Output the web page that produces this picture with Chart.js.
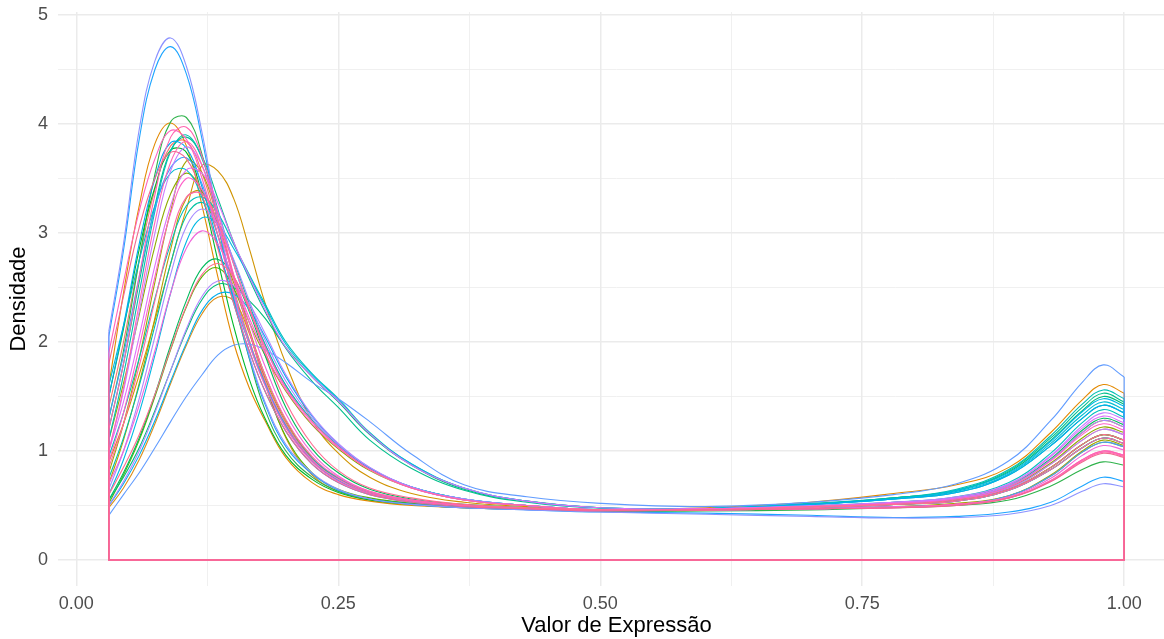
<!DOCTYPE html>
<html><head><meta charset="utf-8">
<script src="https://cdn.jsdelivr.net/npm/chart.js@4.4.1/dist/chart.umd.min.js"></script>
<style>html,body{margin:0;padding:0;overflow:hidden;background:#fff}</style>
</head><body>
<canvas id="c" width="1175" height="639"></canvas>
<script>
// Expression values (x) at which each density curve was read
const xValues = [0.031, 0.045, 0.06, 0.075, 0.09, 0.105, 0.12, 0.135, 0.15, 0.165, 0.18, 0.2, 0.225, 0.25, 0.28, 0.32, 0.37, 0.43, 0.5, 0.6, 0.7, 0.78, 0.84, 0.89, 0.93, 0.96, 0.98, 1.0];

// Density curves (one per sample)
const s01 = [1.40, 2.00, 2.75, 3.40, 3.80, 3.84, 3.55, 3.05, 2.50, 2.02, 1.62, 1.23, 0.91, 0.73, 0.61, 0.54, 0.50, 0.47, 0.455, 0.47, 0.49, 0.52, 0.56, 0.66, 0.88, 1.10, 1.20, 1.15];
const s02 = [1.60, 2.45, 3.25, 3.82, 4.01, 3.80, 3.25, 2.60, 2.00, 1.58, 1.28, 0.94, 0.71, 0.60, 0.54, 0.50, 0.48, 0.47, 0.46, 0.48, 0.53, 0.61, 0.69, 0.85, 1.17, 1.47, 1.61, 1.53];
const s03 = [0.90, 1.25, 1.70, 2.20, 2.72, 3.22, 3.62, 3.57, 3.32, 2.86, 2.36, 1.80, 1.28, 0.98, 0.76, 0.61, 0.53, 0.49, 0.46, 0.46, 0.49, 0.51, 0.55, 0.65, 0.85, 1.06, 1.15, 1.10];
const s04 = [0.48, 0.66, 0.92, 1.25, 1.62, 1.97, 2.26, 2.41, 2.38, 2.08, 1.65, 1.12, 0.78, 0.63, 0.55, 0.51, 0.48, 0.465, 0.45, 0.47, 0.49, 0.52, 0.57, 0.68, 0.92, 1.17, 1.28, 1.22];
const s05 = [0.70, 1.10, 1.62, 2.22, 2.85, 3.32, 3.38, 3.08, 2.60, 2.12, 1.70, 1.28, 0.94, 0.75, 0.62, 0.55, 0.50, 0.475, 0.455, 0.46, 0.47, 0.49, 0.51, 0.59, 0.77, 0.99, 1.08, 1.04];
const s06 = [0.80, 1.25, 1.85, 2.55, 3.20, 3.66, 3.55, 3.12, 2.60, 2.10, 1.67, 1.26, 0.93, 0.75, 0.62, 0.55, 0.50, 0.475, 0.455, 0.46, 0.47, 0.49, 0.52, 0.59, 0.78, 1.00, 1.10, 1.05];
const s07 = [1.10, 1.62, 2.25, 2.88, 3.36, 3.55, 3.38, 2.98, 2.55, 2.18, 1.88, 1.55, 1.24, 1.02, 0.82, 0.66, 0.55, 0.50, 0.46, 0.47, 0.49, 0.52, 0.56, 0.67, 0.89, 1.12, 1.22, 1.17];
const s08 = [0.52, 0.78, 1.10, 1.50, 1.93, 2.32, 2.60, 2.68, 2.50, 2.10, 1.62, 1.13, 0.80, 0.65, 0.57, 0.52, 0.49, 0.47, 0.45, 0.46, 0.48, 0.51, 0.54, 0.64, 0.83, 1.03, 1.12, 1.07];
const s09 = [1.30, 1.92, 2.75, 3.54, 4.02, 4.06, 3.72, 3.10, 2.40, 1.85, 1.38, 1.00, 0.76, 0.63, 0.56, 0.52, 0.49, 0.47, 0.45, 0.45, 0.46, 0.48, 0.50, 0.55, 0.68, 0.83, 0.90, 0.87];
const s10 = [1.50, 2.12, 2.85, 3.42, 3.76, 3.74, 3.35, 2.75, 2.15, 1.66, 1.30, 0.96, 0.74, 0.62, 0.55, 0.51, 0.48, 0.465, 0.45, 0.46, 0.49, 0.51, 0.55, 0.65, 0.85, 1.06, 1.15, 1.10];
const s11 = [0.55, 0.80, 1.12, 1.52, 1.97, 2.38, 2.68, 2.76, 2.60, 2.28, 1.88, 1.40, 1.02, 0.80, 0.65, 0.56, 0.51, 0.48, 0.46, 0.47, 0.49, 0.53, 0.57, 0.69, 0.93, 1.19, 1.30, 1.24];
const s12 = [0.55, 0.76, 1.03, 1.37, 1.74, 2.10, 2.39, 2.53, 2.50, 2.38, 2.22, 1.95, 1.68, 1.45, 1.15, 0.87, 0.65, 0.54, 0.48, 0.47, 0.51, 0.57, 0.64, 0.81, 1.10, 1.37, 1.50, 1.43];
const s13 = [1.20, 1.80, 2.55, 3.25, 3.76, 3.88, 3.70, 3.32, 2.92, 2.58, 2.28, 1.94, 1.64, 1.40, 1.10, 0.84, 0.64, 0.53, 0.475, 0.47, 0.51, 0.57, 0.64, 0.82, 1.12, 1.40, 1.53, 1.45];
const s14 = [0.75, 1.12, 1.60, 2.15, 2.72, 3.16, 3.28, 3.10, 2.75, 2.35, 1.98, 1.60, 1.28, 1.05, 0.84, 0.67, 0.56, 0.50, 0.46, 0.47, 0.51, 0.56, 0.62, 0.78, 1.05, 1.30, 1.42, 1.35];
const s15 = [1.10, 1.70, 2.45, 3.20, 3.75, 3.90, 3.68, 3.22, 2.72, 2.30, 1.98, 1.60, 1.28, 1.05, 0.84, 0.67, 0.56, 0.50, 0.46, 0.47, 0.52, 0.57, 0.65, 0.83, 1.14, 1.43, 1.56, 1.48];
const s16 = [0.95, 1.35, 1.85, 2.40, 2.90, 3.25, 3.33, 3.18, 2.90, 2.62, 2.35, 2.00, 1.71, 1.48, 1.17, 0.88, 0.66, 0.54, 0.48, 0.47, 0.50, 0.53, 0.58, 0.71, 0.98, 1.26, 1.38, 1.31];
const s17 = [1.60, 2.15, 2.75, 3.25, 3.55, 3.58, 3.32, 2.88, 2.40, 1.98, 1.62, 1.24, 0.93, 0.75, 0.62, 0.55, 0.50, 0.475, 0.455, 0.47, 0.51, 0.56, 0.63, 0.79, 1.07, 1.33, 1.45, 1.38];
const s18 = [0.60, 0.92, 1.35, 1.88, 2.45, 2.92, 3.14, 3.08, 2.86, 2.60, 2.33, 1.98, 1.70, 1.47, 1.16, 0.88, 0.66, 0.54, 0.48, 0.47, 0.51, 0.56, 0.64, 0.80, 1.09, 1.36, 1.48, 1.41];
const s19 = [0.50, 0.70, 0.96, 1.28, 1.64, 1.99, 2.29, 2.44, 2.44, 2.30, 2.05, 1.68, 1.32, 1.06, 0.84, 0.67, 0.56, 0.50, 0.46, 0.47, 0.51, 0.56, 0.62, 0.78, 1.05, 1.30, 1.42, 1.35];
const s20 = [1.50, 2.15, 2.90, 3.50, 3.83, 3.78, 3.42, 2.90, 2.36, 1.92, 1.55, 1.18, 0.88, 0.71, 0.60, 0.53, 0.49, 0.47, 0.45, 0.46, 0.48, 0.51, 0.54, 0.64, 0.83, 1.03, 1.12, 1.07];
const s21 = [2.05, 2.84, 3.86, 4.50, 4.71, 4.46, 3.86, 3.10, 2.42, 1.86, 1.43, 1.04, 0.79, 0.64, 0.56, 0.51, 0.48, 0.46, 0.44, 0.43, 0.41, 0.39, 0.40, 0.44, 0.53, 0.68, 0.76, 0.72];
const s22 = [1.30, 1.88, 2.60, 3.22, 3.60, 3.69, 3.45, 2.98, 2.46, 2.00, 1.62, 1.22, 0.91, 0.73, 0.61, 0.54, 0.50, 0.47, 0.455, 0.46, 0.47, 0.49, 0.51, 0.59, 0.77, 0.99, 1.08, 1.04];
const s23 = [0.41, 0.60, 0.80, 1.03, 1.27, 1.50, 1.70, 1.88, 1.97, 1.98, 1.93, 1.81, 1.63, 1.48, 1.27, 0.97, 0.69, 0.58, 0.52, 0.49, 0.53, 0.60, 0.70, 0.91, 1.28, 1.63, 1.79, 1.68];
const s24 = [2.10, 2.90, 3.95, 4.58, 4.79, 4.53, 3.92, 3.14, 2.45, 1.88, 1.45, 1.06, 0.80, 0.65, 0.56, 0.51, 0.48, 0.46, 0.44, 0.42, 0.40, 0.385, 0.39, 0.42, 0.50, 0.63, 0.70, 0.67];
const s25 = [0.65, 1.00, 1.48, 2.05, 2.62, 3.06, 3.22, 3.08, 2.76, 2.38, 2.02, 1.64, 1.30, 1.06, 0.85, 0.67, 0.56, 0.50, 0.46, 0.47, 0.49, 0.52, 0.57, 0.68, 0.92, 1.17, 1.28, 1.22];
const s26 = [0.50, 0.72, 1.00, 1.35, 1.74, 2.12, 2.42, 2.56, 2.52, 2.35, 2.08, 1.70, 1.33, 1.07, 0.85, 0.67, 0.56, 0.50, 0.46, 0.47, 0.49, 0.52, 0.56, 0.66, 0.88, 1.10, 1.20, 1.15];
const s27 = [1.00, 1.55, 2.28, 3.00, 3.57, 3.79, 3.62, 3.20, 2.72, 2.30, 1.95, 1.58, 1.27, 1.04, 0.83, 0.66, 0.55, 0.50, 0.46, 0.47, 0.50, 0.53, 0.58, 0.70, 0.96, 1.23, 1.35, 1.29];
const s28 = [1.00, 1.45, 2.05, 2.70, 3.25, 3.58, 3.55, 3.28, 2.92, 2.60, 2.30, 1.95, 1.68, 1.46, 1.16, 0.87, 0.66, 0.54, 0.48, 0.47, 0.49, 0.53, 0.57, 0.69, 0.95, 1.21, 1.32, 1.26];
const s29 = [0.70, 1.00, 1.42, 1.92, 2.45, 2.86, 3.02, 2.90, 2.58, 2.18, 1.78, 1.34, 0.98, 0.77, 0.63, 0.55, 0.50, 0.475, 0.455, 0.46, 0.47, 0.49, 0.51, 0.58, 0.75, 0.96, 1.05, 1.01];
const s30 = [0.90, 1.35, 1.95, 2.60, 3.18, 3.50, 3.40, 3.05, 2.62, 2.22, 1.90, 1.56, 1.25, 1.03, 0.83, 0.66, 0.55, 0.50, 0.46, 0.47, 0.49, 0.52, 0.56, 0.67, 0.91, 1.15, 1.25, 1.19];
const s31 = [1.90, 2.55, 3.20, 3.68, 3.94, 3.86, 3.50, 2.98, 2.45, 1.98, 1.60, 1.21, 0.90, 0.72, 0.61, 0.54, 0.50, 0.47, 0.455, 0.46, 0.47, 0.48, 0.51, 0.57, 0.73, 0.92, 1.00, 0.96];
const s32 = [1.00, 1.58, 2.35, 3.10, 3.65, 3.84, 3.62, 3.12, 2.58, 2.10, 1.70, 1.29, 0.95, 0.76, 0.63, 0.55, 0.50, 0.475, 0.455, 0.46, 0.47, 0.48, 0.51, 0.57, 0.72, 0.91, 0.99, 0.95];
const s33 = [1.20, 1.80, 2.60, 3.35, 3.88, 3.97, 3.70, 3.18, 2.62, 2.10, 1.65, 1.25, 0.92, 0.74, 0.62, 0.55, 0.50, 0.475, 0.455, 0.46, 0.47, 0.48, 0.51, 0.57, 0.73, 0.92, 1.00, 0.96];
const s34 = [0.85, 1.25, 1.78, 2.38, 2.95, 3.33, 3.36, 3.10, 2.72, 2.32, 1.96, 1.58, 1.27, 1.04, 0.83, 0.66, 0.55, 0.50, 0.46, 0.46, 0.48, 0.51, 0.54, 0.64, 0.83, 1.03, 1.12, 1.07];
const s35 = [0.60, 0.85, 1.15, 1.52, 1.94, 2.33, 2.62, 2.72, 2.60, 2.30, 1.92, 1.45, 1.06, 0.82, 0.66, 0.57, 0.51, 0.48, 0.46, 0.46, 0.49, 0.51, 0.55, 0.65, 0.85, 1.06, 1.15, 1.10];
const s36 = [1.80, 2.42, 3.05, 3.50, 3.74, 3.68, 3.35, 2.86, 2.36, 1.92, 1.55, 1.18, 0.88, 0.71, 0.60, 0.53, 0.49, 0.47, 0.45, 0.46, 0.47, 0.48, 0.50, 0.57, 0.72, 0.90, 0.98, 0.94];

const curves = [s01,s02,s03,s04,s05,s06,s07,s08,s09,s10,s11,s12,s13,s14,s15,s16,s17,s18,s19,s20,s21,s22,s23,s24,s25,s26,s27,s28,s29,s30,s31,s32,s33,s34,s35,s36];
const curveColors = ['#F8766D','#E38900','#D09400','#DB8E1A','#B79F00','#A3A500','#8FAA00','#53B400','#2DB24A','#00B82A','#00BA5C','#00BC7A','#00BF8C','#00C1A3','#00BFB2','#00C0BB','#00BDD0','#00B9E3','#00ADEF','#00A8F0','#1EA5FF','#3FA1FF','#619CFF','#8C93FF','#A68BFF','#B186FF','#C77CFF','#DD71FA','#F066DA','#FF61C9','#FF62BC','#FF66B5','#FF64B0','#FF6AA3','#FF6C91','#F2688F'];

const xMajorTicks = [0, 0.25, 0.5, 0.75, 1];
const xTickLabels = ['0.00', '0.25', '0.50', '0.75', '1.00'];
const yMajorTicks = [0, 1, 2, 3, 4, 5];
const yTickLabels = ['0', '1', '2', '3', '4', '5'];

function withMinor(majors) {
  const out = [];
  majors.forEach((v, i) => {
    out.push(v);
    if (i < majors.length - 1) out.push((v + majors[i + 1]) / 2);
  });
  return out;
}
const xGrid = withMinor(xMajorTicks);
const yGrid = withMinor(yMajorTicks);

const FONT = "'Liberation Sans', Arial, Helvetica, sans-serif";
Chart.defaults.font.family = FONT;

const x0 = xValues[0], xN = xValues[xValues.length - 1];
const ordered = [];
curves.forEach((c, i) => {
  const col = curveColors[i];
  ordered.push({
    data: [{x: x0, y: c[0]}, {x: x0, y: 0}, {x: xN, y: 0}, {x: xN, y: c[c.length - 1]}],
    borderColor: col, borderWidth: 1.1, tension: 0, pointRadius: 0, fill: false
  });
  ordered.push({
    data: xValues.map((x, j) => ({x: x, y: c[j]})),
    borderColor: col, borderWidth: 1.1, tension: 0.4, pointRadius: 0, fill: false
  });
});
// Chart.js paints the first dataset on top, so reverse the drawing order
const datasets = ordered.reverse();

const majorColor = '#EBEBEB';
new Chart(document.getElementById('c'), {
  type: 'line',
  data: { datasets },
  options: {
    responsive: false,
    animation: false,
    events: [],
    layout: { padding: { top: 12, right: 0, bottom: 0, left: 0 } },
    plugins: { legend: { display: false }, tooltip: { enabled: false } },
    elements: { point: { radius: 0 } },
    scales: {
      x: {
        type: 'linear', min: -0.0175, max: 1.0485,
        afterBuildTicks: s => { s.ticks = xGrid.map(v => ({ value: v })); },
        afterFit: s => { s.height = 53; s.paddingLeft = 0; s.paddingRight = 0; },
        border: { display: false },
        grid: {
          drawTicks: false,
          color: majorColor,
          lineWidth: ctx => (ctx.index % 2 === 0 ? 1.5 : 0.75)
        },
        ticks: {
          autoSkip: false, maxRotation: 0, padding: 7,
          color: '#4D4D4D', font: { size: 18 },
          callback: (v, i) => (i % 2 === 0 ? xTickLabels[i / 2] : '')
        },
        title: { display: true, text: 'Valor de Expressão', color: '#000000', font: { size: 22 }, padding: { top: 0, bottom: 0 } }
      },
      y: {
        type: 'linear', min: -0.2385, max: 5.028,
        afterBuildTicks: s => { s.ticks = yGrid.map(v => ({ value: v })); },
        afterFit: s => { s.width = 58; s.paddingTop = 0; s.paddingBottom = 0; },
        border: { display: false },
        grid: {
          drawTicks: false,
          color: majorColor,
          lineWidth: ctx => (ctx.index % 2 === 0 ? 1.5 : 0.75)
        },
        ticks: {
          autoSkip: false, padding: 10,
          color: '#4D4D4D', font: { size: 18 },
          callback: (v, i) => (i % 2 === 0 ? yTickLabels[i / 2] : '')
        },
        title: { display: true, text: 'Densidade', color: '#000000', font: { size: 22 }, padding: { top: 6, bottom: 0 } }
      }
    }
  }
});
</script>
</body></html>
